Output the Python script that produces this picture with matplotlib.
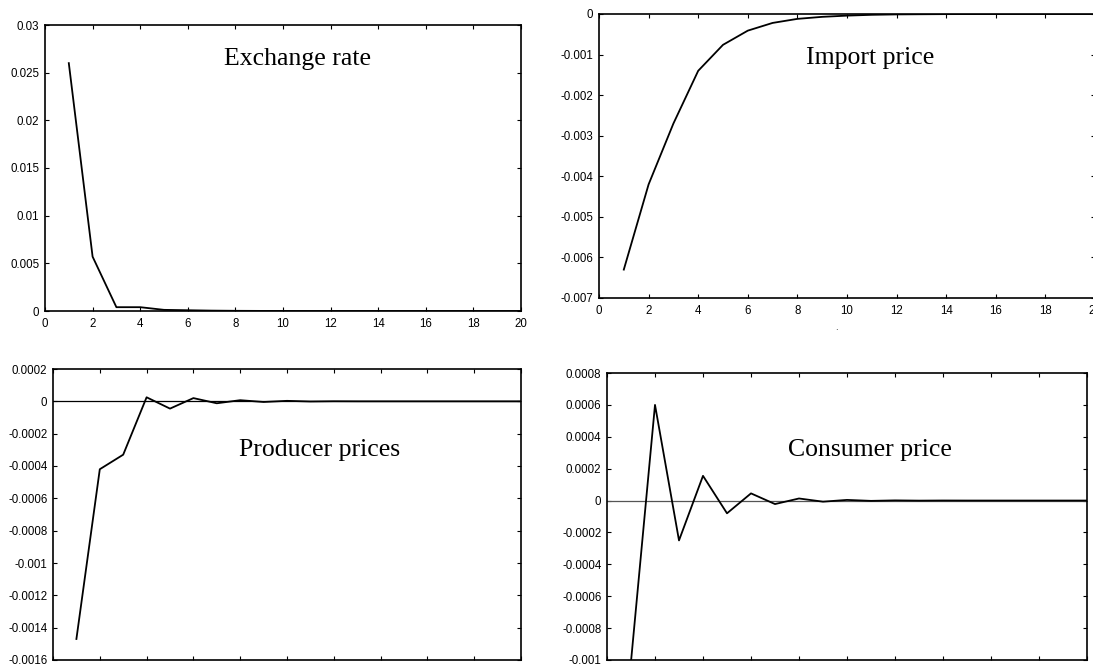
import numpy as np
import matplotlib
matplotlib.use('Agg')
import matplotlib.pyplot as plt
from matplotlib.ticker import FuncFormatter

# impulse responses, periods 1..20
periods = np.arange(1, 21)

exchange_rate = [0.026, 0.0057, 0.0004, 0.0004, 0.00012, 0.00008, 0.00004, 0.00002,
                 0.00001, 0.000005, 0.0, 0.0, 0.0, 0.0, 0.0, 0.0, 0.0, 0.0, 0.0, 0.0]

import_price = [-0.0063, -0.0042, -0.0027, -0.0014, -0.00076, -0.00041, -0.00022, -0.00012,
                -0.00007, -0.00004, -0.00002, -0.00001, -0.000006, -0.000003, -0.000002,
                -0.000001, 0.0, 0.0, 0.0, 0.0]

producer_prices = [-0.00147, -0.00042, -0.00033, 0.000025, -0.000045, 0.00002, -0.000012,
                   0.000007, -0.000004, 0.000003, -0.000001, 0.0000005, 0.0, 0.0, 0.0,
                   0.0, 0.0, 0.0, 0.0, 0.0]

consumer_price = [-0.00101, 0.0006, -0.00025, 0.000155, -0.00008, 0.000045, -0.000022,
                  0.000013, -0.000007, 0.000004, -0.000002, 0.000001, -0.0000005, 0.0000003,
                  0.0, 0.0, 0.0, 0.0, 0.0, 0.0]

W, H = 1093, 664
fig = plt.figure(figsize=(W / 100, H / 100), dpi=100)

def px_axes(left, top, right, bottom):
    return fig.add_axes([left / W, 1 - bottom / H, (right - left) / W, (bottom - top) / H])

def style(ax, yticks):
    ax.set_xlim(0, 20)
    ax.set_xticks(np.arange(0, 21, 2))
    ax.set_yticks(yticks)
    ax.set_ylim(yticks[0], yticks[-1])
    ax.yaxis.set_major_formatter(FuncFormatter(lambda v, p: '%g' % round(v, 6)))
    ax.tick_params(direction='in', length=3, width=0.8, top=True, right=True,
                   labelsize=8.3)
    ax.tick_params(axis='y', pad=4)
    ax.tick_params(axis='x', pad=5)
    for lab in ax.get_xticklabels() + ax.get_yticklabels():
        lab.set_family(['Liberation Sans', 'DejaVu Sans'])
    for s in ax.spines.values():
        s.set_linewidth(1.2)

title_font = dict(family='Liberation Serif', size=18.5, ha='center', va='center')

# Exchange rate
ax1 = px_axes(45, 25, 521, 311)
ax1.plot(periods, exchange_rate, color='black', lw=1.3)
style(ax1, np.linspace(0, 0.03, 7))
ax1.text(0.53, 0.88, 'Exchange rate', transform=ax1.transAxes, **title_font)

# Import price
ax2 = px_axes(599, 14, 1095, 298)
ax2.plot(periods, import_price, color='black', lw=1.3)
style(ax2, np.linspace(-0.007, 0, 8))
ax2.text(0.546, 0.845, 'Import price', transform=ax2.transAxes, **title_font)
fig.text(836 / W, 1 - 328 / H, '.', fontsize=6, ha='center', va='center')

# Producer prices
ax3 = px_axes(53, 369, 521, 660)
ax3.axhline(0, color='black', lw=0.9)
ax3.plot(periods, producer_prices, color='black', lw=1.3)
style(ax3, np.linspace(-0.0016, 0.0002, 10))
ax3.text(0.57, 0.72, 'Producer prices', transform=ax3.transAxes, **title_font)

# Consumer price
ax4 = px_axes(607, 373, 1087, 660)
ax4.axhline(0, color='#555555', lw=0.9)
ax4.plot(periods, consumer_price, color='black', lw=1.3)
style(ax4, np.linspace(-0.001, 0.0008, 10))
ax4.text(0.548, 0.73, 'Consumer price', transform=ax4.transAxes, **title_font)

fig.savefig('out.png', dpi=100)
